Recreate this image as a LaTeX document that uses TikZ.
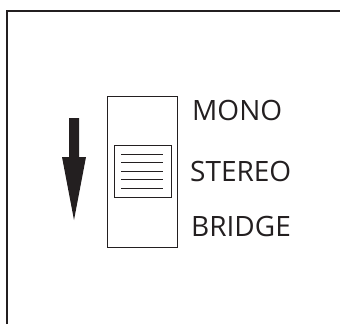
\documentclass[tikz,border=0pt]{standalone}
\usepackage{fontspec}
\setmainfont{Open Sans}
\definecolor{ink}{HTML}{231F20}
\begin{document}
\begin{tikzpicture}[x=1pt,y=-1pt,
  frameline/.style={draw=ink,line width=1.4pt},
  boxline/.style={draw=ink,line width=1pt},
  label/.style={anchor=base west,inner sep=0pt,text=ink,font=\fontsize{28}{34}\selectfont}]
\useasboundingbox (0,0) rectangle (340,324);
% outer frame (partly cut off)
\draw[frameline] (7,324) -- (7,11) -- (340,11);
% switch body
\node[boxline,minimum width=70pt,minimum height=151pt,inner sep=0pt,anchor=north west] (body) at (107,96) {};
% slider
\node[boxline,minimum width=57pt,minimum height=52pt,inner sep=0pt,anchor=north west] (slider) at (114,145) {};
\foreach \yy in {154,162,171,179,188}
  \draw[ink,line width=0.9pt] (121,\yy) -- (163,\yy);
% arrow
\fill[ink] (69,118) -- (79,118) -- (79,157) -- (86,157) -- (74,220) -- (62,157) -- (69,157) -- cycle;
% labels
\node[label] (mono) at (192,120) {MONO};
\node[label] (stereo) at (190,181) {STEREO};
\node[label] (bridge) at (191,236) {BRIDGE};
\end{tikzpicture}
\end{document}
